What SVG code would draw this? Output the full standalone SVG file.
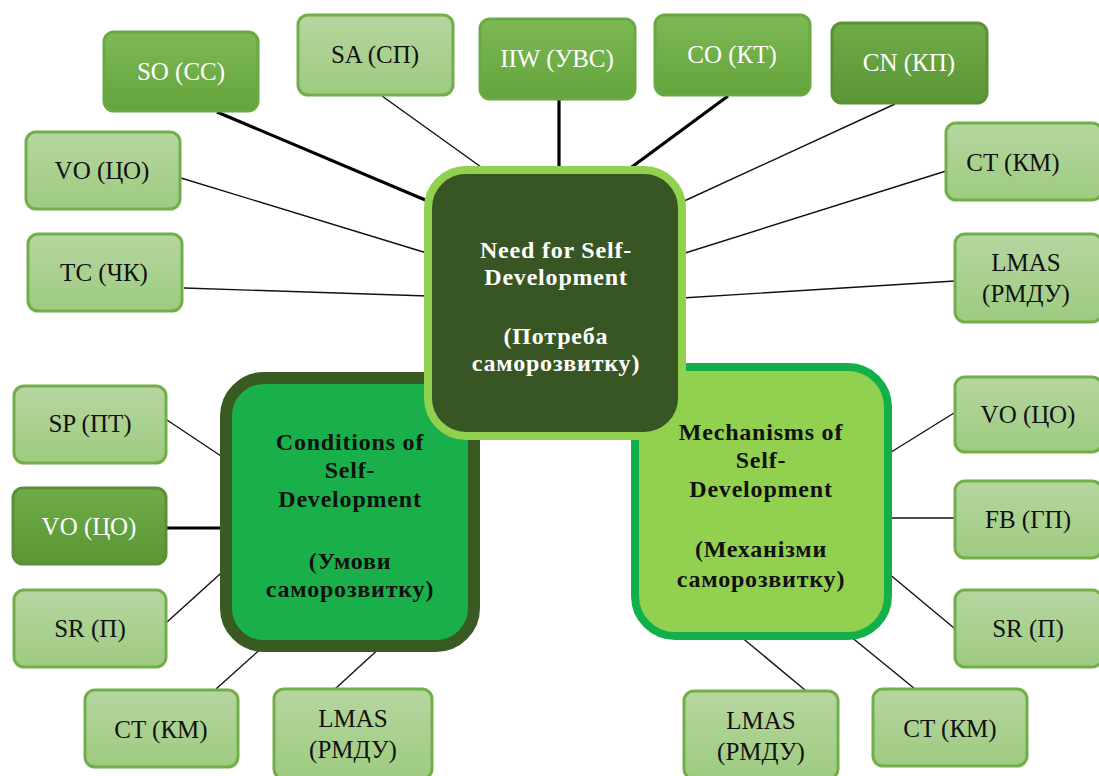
<svg xmlns="http://www.w3.org/2000/svg" width="1099" height="776" viewBox="0 0 1099 776">
<defs>
<linearGradient id="gLight" x1="0" y1="0" x2="0" y2="1"><stop offset="0" stop-color="#b6d6a0"/><stop offset="1" stop-color="#9ecb80"/></linearGradient>
<linearGradient id="gMid" x1="0" y1="0" x2="0" y2="1"><stop offset="0" stop-color="#7db956"/><stop offset="1" stop-color="#64a43b"/></linearGradient>
<linearGradient id="gDark" x1="0" y1="0" x2="0" y2="1"><stop offset="0" stop-color="#6fab47"/><stop offset="1" stop-color="#5a9734"/></linearGradient>
<style>
.light rect{fill:url(#gLight);stroke:#72ae4a;stroke-width:3}
.mid rect{fill:url(#gMid);stroke:#6aa842;stroke-width:3}
.dark rect{fill:url(#gDark);stroke:#5b8f39;stroke-width:3}
.node text{font-family:"Liberation Serif",serif;font-size:25px;text-anchor:middle}
.light text{fill:#111111}
.mid text,.dark text{fill:#ffffff}
.hub text{font-family:"Liberation Serif",serif;font-size:24px;font-weight:bold;letter-spacing:0.8px;text-anchor:middle}
.thin{stroke:#111;stroke-width:1.4;fill:none}
.thick{stroke:#000;stroke-width:3.2;fill:none}
</style>
</defs>
<g id="connectors">
<line class="thick" x1="217" y1="112" x2="430" y2="202"/>
<line class="thin" x1="382" y1="96" x2="488" y2="172"/>
<line class="thick" x1="559" y1="100" x2="559" y2="172"/>
<line class="thick" x1="728" y1="96" x2="625" y2="172"/>
<line class="thin" x1="895" y1="104" x2="682" y2="202"/>
<line class="thin" x1="946" y1="171" x2="682" y2="254"/>
<line class="thin" x1="955" y1="281" x2="682" y2="298"/>
<line class="thin" x1="181" y1="178" x2="430" y2="254"/>
<line class="thin" x1="184" y1="288" x2="428" y2="296"/>
<line class="thin" x1="167" y1="420" x2="230" y2="462"/>
<line class="thick" x1="167" y1="528" x2="230" y2="528"/>
<line class="thin" x1="167" y1="622" x2="230" y2="565"/>
<line class="thin" x1="216" y1="689" x2="265" y2="645"/>
<line class="thin" x1="335" y1="689" x2="383" y2="645"/>
<line class="thin" x1="954" y1="413" x2="888" y2="454"/>
<line class="thin" x1="954" y1="518" x2="888" y2="518"/>
<line class="thin" x1="954" y1="628" x2="888" y2="573"/>
<line class="thin" x1="805" y1="690" x2="740" y2="636"/>
<line class="thin" x1="915" y1="689" x2="850" y2="636"/>
</g>
<g id="conditions" class="hub">
<rect x="226" y="378" width="248" height="268" rx="38" fill="#19b04b" stroke="#3a5a24" stroke-width="12"/>
<text x="350" y="450" fill="#111">Conditions of</text>
<text x="350" y="478" fill="#111">Self-</text>
<text x="350" y="507" fill="#111">Development</text>
<text x="350" y="569" fill="#111">(Умови</text>
<text x="350" y="597" fill="#111">саморозвитку)</text>
</g>
<g id="mechanisms" class="hub">
<rect x="635" y="367" width="253" height="269" rx="40" fill="#92d050" stroke="#12b04a" stroke-width="8"/>
<text x="761" y="440" fill="#111">Mechanisms of</text>
<text x="761" y="468" fill="#111">Self-</text>
<text x="761" y="497" fill="#111">Development</text>
<text x="761" y="557" fill="#111">(Механізми</text>
<text x="761" y="587" fill="#111">саморозвитку)</text>
</g>
<g id="need" class="hub">
<rect x="428" y="170" width="254" height="266" rx="38" fill="#375623" stroke="#92d050" stroke-width="8"/>
<text x="556" y="258" fill="#ffffff">Need for Self-</text>
<text x="556" y="285" fill="#ffffff">Development</text>
<text x="556" y="344" fill="#ffffff">(Потреба</text>
<text x="556" y="371" fill="#ffffff">саморозвитку)</text>
</g>
<g id="n-so" class="node mid"><rect x="104" y="32" width="154" height="79" rx="10"/><text x="181" y="80">SO (CC)</text></g>
<g id="n-sa" class="node light"><rect x="298" y="15" width="155" height="80" rx="10"/><text x="375" y="63">SA (СП)</text></g>
<g id="n-iiw" class="node mid"><rect x="480" y="19" width="155" height="80" rx="10"/><text x="557" y="67">IIW (УВС)</text></g>
<g id="n-co" class="node mid"><rect x="655" y="15" width="155" height="80" rx="10"/><text x="732" y="63">CO (КТ)</text></g>
<g id="n-cn" class="node dark"><rect x="832" y="23" width="155" height="80" rx="10"/><text x="909" y="71">CN (КП)</text></g>
<g id="n-vo1" class="node light"><rect x="26" y="132" width="154" height="77" rx="10"/><text x="102" y="179">VO (ЦО)</text></g>
<g id="n-tc" class="node light"><rect x="28" y="234" width="154" height="77" rx="10"/><text x="104" y="281">TC (ЧК)</text></g>
<g id="n-ct1" class="node light"><rect x="946" y="123" width="156" height="77" rx="10"/><text x="1013" y="171">CT (КМ)</text></g>
<g id="n-lmas1" class="node light"><rect x="955" y="234" width="147" height="88" rx="10"/><text x="1026" y="271">LMAS</text><text x="1026" y="302">(РМДУ)</text></g>
<g id="n-sp" class="node light"><rect x="14" y="386" width="152" height="77" rx="10"/><text x="90" y="432">SP (ПТ)</text></g>
<g id="n-vo2" class="node dark"><rect x="13" y="488" width="153" height="76" rx="10"/><text x="89" y="535">VO (ЦО)</text></g>
<g id="n-sr1" class="node light"><rect x="14" y="590" width="152" height="77" rx="10"/><text x="90" y="637">SR (П)</text></g>
<g id="n-ct2" class="node light"><rect x="85" y="690" width="153" height="77" rx="10"/><text x="161" y="738">CT (КМ)</text></g>
<g id="n-lmas2" class="node light"><rect x="274" y="689" width="158" height="90" rx="10"/><text x="353" y="727">LMAS</text><text x="353" y="758">(РМДУ)</text></g>
<g id="n-vo3" class="node light"><rect x="955" y="377" width="147" height="75" rx="10"/><text x="1028" y="423">VO (ЦО)</text></g>
<g id="n-fb" class="node light"><rect x="955" y="481" width="147" height="77" rx="10"/><text x="1028" y="528">FB (ГП)</text></g>
<g id="n-sr2" class="node light"><rect x="955" y="590" width="147" height="77" rx="10"/><text x="1028" y="637">SR (П)</text></g>
<g id="n-lmas3" class="node light"><rect x="684" y="691" width="154" height="88" rx="10"/><text x="761" y="729">LMAS</text><text x="761" y="760">(РМДУ)</text></g>
<g id="n-ct3" class="node light"><rect x="873" y="689" width="154" height="77" rx="10"/><text x="950" y="737">CT (КМ)</text></g>
</svg>
